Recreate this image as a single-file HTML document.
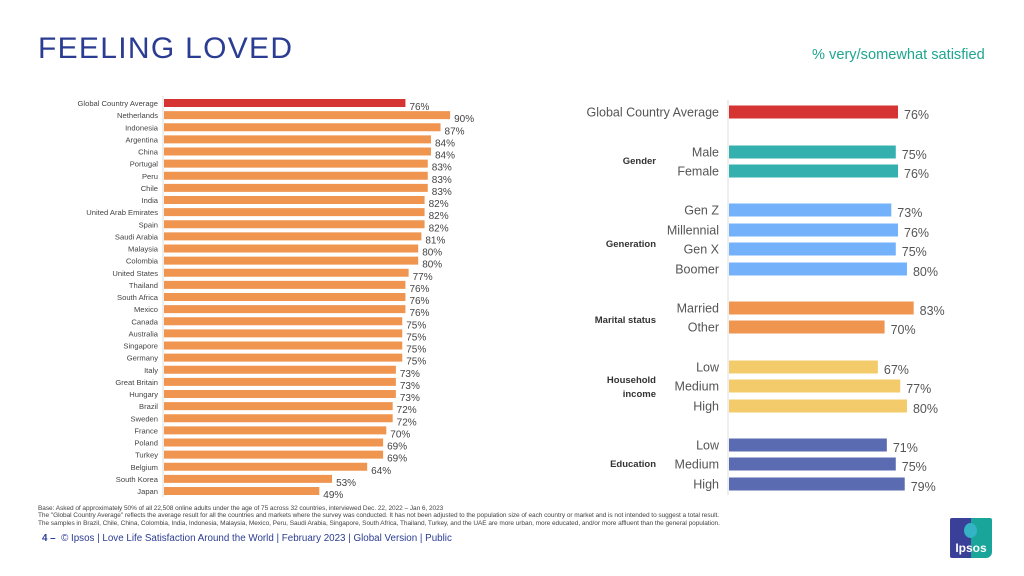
<!DOCTYPE html>
<html><head><meta charset="utf-8"><style>
html,body{margin:0;padding:0;background:#fff;}
body{width:1024px;height:576px;position:relative;overflow:hidden;font-family:"Liberation Sans",sans-serif;}
.abs{position:absolute;}
</style></head><body>
<div class="abs" style="left:38px;top:32px;font-size:30px;color:#2b3c93;letter-spacing:1.3px;">FEELING LOVED</div>
<div class="abs" style="left:812px;top:47px;font-size:14.6px;color:#1fa58f;">% very/somewhat satisfied</div>
<svg class="abs" style="left:0;top:0" width="1024" height="576" id="chart"></svg>
<div class="abs" style="left:38px;top:505px;font-size:6.5px;line-height:7.3px;color:#444;white-space:nowrap;letter-spacing:-0.05px;">Base: Asked of approximately 50% of all 22,508 online adults under the age of 75 across 32 countries, interviewed Dec. 22, 2022 – Jan 6, 2023<br>The "Global Country Average" reflects the average result for all the countries and markets where the survey was conducted. It has not been adjusted to the population size of each country or market and is not intended to suggest a total result.<br>The samples in Brazil, Chile, China, Colombia, India, Indonesia, Malaysia, Mexico, Peru, Saudi Arabia, Singapore, South Africa, Thailand, Turkey, and the UAE are more urban, more educated, and/or more affluent than the general population.</div>
<div class="abs" style="left:42px;top:533px;font-size:9.8px;color:#2b3c93;white-space:nowrap;"><b>4 –</b> &nbsp;© Ipsos | Love Life Satisfaction Around the World | February 2023 | Global Version | Public</div>
<div class="abs" style="left:950px;top:518px;width:42px;height:40px;background:linear-gradient(90deg,#3a3f97 50%,#1aa59a 50%);border-radius:2px 2px 6px 2px;">
<div style="position:absolute;left:14px;top:5px;width:13px;height:15px;border-radius:50%;background:#33b3c4;"></div>
<div style="position:absolute;left:0;width:42px;top:23px;text-align:center;color:#fff;font-weight:bold;font-size:12px;">Ipsos</div></div>
<script>
const leftCats=["Global Country Average","Netherlands","Indonesia","Argentina","China","Portugal","Peru","Chile","India","United Arab Emirates","Spain","Saudi Arabia","Malaysia","Colombia","United States","Thailand","South Africa","Mexico","Canada","Australia","Singapore","Germany","Italy","Great Britain","Hungary","Brazil","Sweden","France","Poland","Turkey","Belgium","South Korea","Japan"];
const leftVals=[76,90,87,84,84,83,83,83,82,82,82,81,80,80,77,76,76,76,75,75,75,75,73,73,73,72,72,70,69,69,64,53,49];
const rightCats=["Global Country Average","Male","Female","Gen Z","Millennial","Gen X","Boomer","Married","Other","Low","Medium","High","Low","Medium","High"];
const rightVals=[76,75,76,73,76,75,80,83,70,67,77,80,71,75,79];
const rightGroups=["Total","Gender","Gender","Generation","Generation","Generation","Generation","Marital","Marital","Income","Income","Income","Education","Education","Education"];
const groupLabels=[["Gender",161],["Generation",244],["Marital status",320],["Household",380],["income",394],["Education",464]];
const svg=document.getElementById('chart');const NS="http://www.w3.org/2000/svg";
function mk(t,a,txt){const e=document.createElementNS(NS,t);for(const k in a)e.setAttribute(k,a[k]);if(txt!=null)e.textContent=txt;svg.appendChild(e);return e;}
const lx0=163,lsc=3.19,ly0=103,lstep=12.125;
const lx=v=>lx0+v*lsc, ly=i=>ly0+i*lstep;
let e=mk('line',{x1:lx0,x2:lx0,y1:96,y2:497,stroke:'#ddd','stroke-width':1});

leftCats.forEach((c,i)=>{
 const v=leftVals[i];
 let b=mk('rect',{x:lx0+1,y:ly(i)-4,width:lx(v)-lx0-1,height:8,fill:i==0?'#d63333':'#ef9550'});
 
 let t=mk('text',{x:lx0-5,y:ly(i)+3,'text-anchor':'end','font-size':7.6,fill:'#444'},c);
 
 let l=mk('text',{x:lx(v)+4,y:ly(i)+7,'font-size':10,fill:'#444'},v+'%');
 
});
const rx0=728,rsc=2.237;
const ryPos=[112,152,171,210,230,249,269,308,327,367,386,406,445,464,484];
const colors={Total:'#d63333',Gender:'#34b1ae',Generation:'#73b1fb',Marital:'#ef9550',Income:'#f4cb6b',Education:'#5a6bb1'};
const rx=v=>rx0+v*rsc;
e=mk('line',{x1:rx0,x2:rx0,y1:100,y2:495,stroke:'#ddd','stroke-width':1});

rightCats.forEach((c,i)=>{
 const v=rightVals[i],y=ryPos[i];
 let b=mk('rect',{x:rx0+1,y:y-6.5,width:rx(v)-rx0-1,height:13,fill:colors[rightGroups[i]]});
 
 let t=mk('text',{x:rx0-9,y:y+4.5,'text-anchor':'end','font-size':12.5,fill:'#555'},c);
 
 let l=mk('text',{x:rx(v)+6,y:y+7,'font-size':12.5,fill:'#555'},v+'%');
 
});
groupLabels.forEach(g=>{
 let t=mk('text',{x:656,y:g[1]+3,'text-anchor':'end','font-size':9.5,'font-weight':'bold',fill:'#333'},g[0]);
 
});
</script>
</body></html>
